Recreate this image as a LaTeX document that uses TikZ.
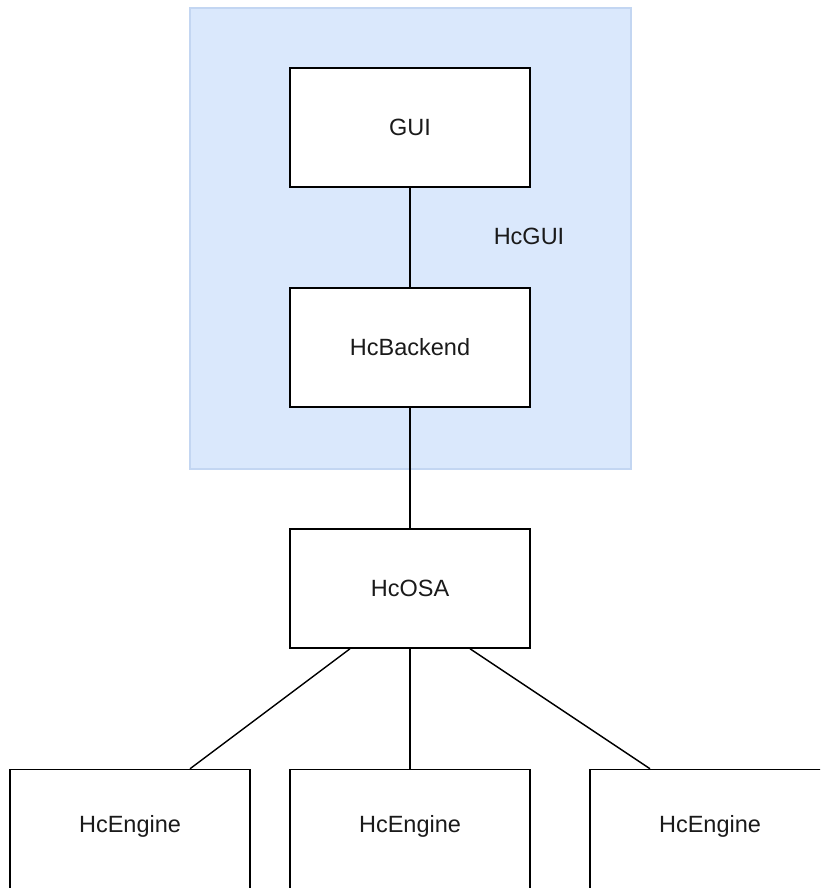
\documentclass[tikz,border=0pt]{standalone}
\usepackage{fontspec}
\setmainfont{Liberation Sans}
\definecolor{grpfill}{HTML}{DAE8FC}
\definecolor{grpline}{HTML}{C3D6F2}
\definecolor{txt}{HTML}{1A1A1A}
\begin{document}
\begin{tikzpicture}[x=1pt,y=-1pt,
  box/.style={draw=black,line width=1.5pt,fill=white,minimum width=240pt,minimum height=119pt,inner sep=0pt,
    font=\fontsize{23.5}{28}\selectfont,text=txt},
  lbl/.style={font=\fontsize{23.5}{28}\selectfont,text=txt,inner sep=0pt},
  link/.style={draw=black,line width=1.4pt}]
\useasboundingbox (0,0) rectangle (820,888);
\clip (0,0) rectangle (820,888);
\fill[white] (0,0) rectangle (820,888);
\node[draw=grpline,line width=1.2pt,fill=grpfill,minimum width=441pt,minimum height=461pt,inner sep=0pt] (grp) at (410.5,238.5) {};
\node[lbl] (hcgui) at (529,236) {HcGUI};
\node[box] (gui) at (410,127.5) {GUI};
\node[box] (backend) at (410,347.5) {HcBackend};
\node[box] (osa) at (410,588.5) {HcOSA};
\node[box] (eng1) at (130,829) {};
\node[box] (eng2) at (410,829) {};
\node[box] (eng3) at (710,829) {};
\node[lbl] (e1t) at (130,826) {HcEngine};
\node[lbl] (e2t) at (410,826) {HcEngine};
\node[lbl] (e3t) at (710,826) {HcEngine};
\draw[link] (gui.south) -- (backend.north);
\draw[link] (backend.south) -- (osa.north);
\draw[link] ([xshift=-60pt]osa.south) -- ([xshift=60pt]eng1.north);
\draw[link] (osa.south) -- (eng2.north);
\draw[link] ([xshift=60pt]osa.south) -- ([xshift=-60pt]eng3.north);
\end{tikzpicture}
\end{document}
